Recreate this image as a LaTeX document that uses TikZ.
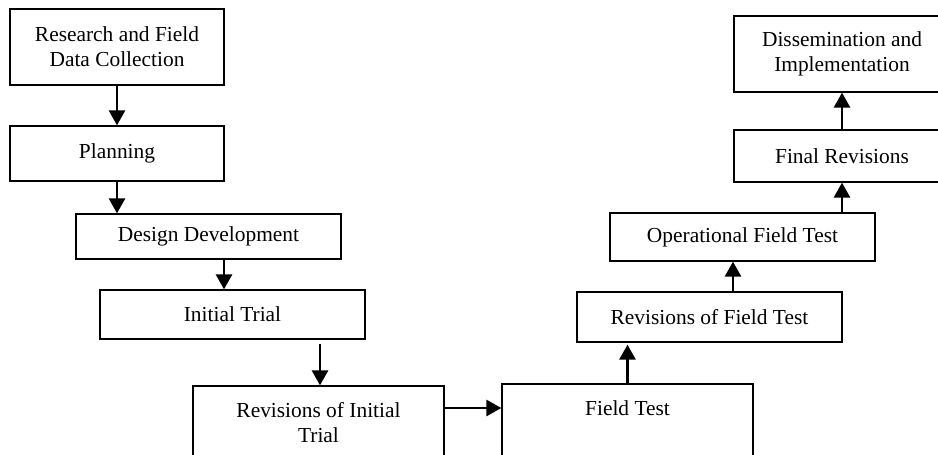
\documentclass[tikz,border=0pt]{standalone}
\usepackage{fontspec}
\setmainfont{Liberation Serif}
\usetikzlibrary{arrows.meta}
\begin{document}
\begin{tikzpicture}[x=0.5pt,y=-0.5pt,
  box/.style={draw,line width=0.65pt,rectangle,inner sep=0pt,align=center,
    font=\fontsize{10.7}{12.5}\selectfont},
  arr/.style={line width=1.4pt,-{Triangle[width=8pt,length=7.5pt]}}]
\useasboundingbox (0,0) rectangle (938,455);
\clip (0,0) rectangle (938,455);
\node[box,minimum width=107pt,minimum height=38pt] (r) at (117,47) {Research and Field\\Data Collection};
\node[box,minimum width=107pt,minimum height=27.5pt] (p) at (117,153.5) {Planning};
\node[box,minimum width=132.5pt,minimum height=22.5pt] (d) at (208.5,236.5) {Design Development};
\node[box,minimum width=132.5pt,minimum height=24.5pt] (it) at (232.5,314.5) {Initial Trial};
\node[box,minimum width=125.5pt,minimum height=37pt] (ri) at (318.5,423) {Revisions of Initial\\Trial};
\node[box,minimum width=125.5pt,minimum height=37pt] (ft) at (627.5,421) {Field Test\\~};
\node[box,minimum width=132.5pt,minimum height=25pt] (rf) at (709.5,317) {Revisions of Field Test};
\node[box,minimum width=132.5pt,minimum height=24pt] (of) at (742.5,237) {Operational Field Test};
\node[box,minimum width=108pt,minimum height=26pt] (fr) at (842,156) {Final Revisions};
\node[box,minimum width=108pt,minimum height=38pt] (di) at (842,54) {Dissemination and\\Implementation};
\draw[arr] (r.south) -- (p.north);
\draw[arr] (p.south) -- (p.south |- d.north);
\draw[arr] ([xshift=7.75pt]d.south) -- ([xshift=7.75pt]d.south |- it.north);
\draw[arr] ([xshift=43.75pt,yshift=-2pt]it.south) -- ([xshift=43.75pt]it.south |- ri.north);
\draw[arr] (ri.east |- 0,408) -- (ft.west |- 0,408);
\draw[arr] (ft.north) -- ([yshift=-1pt]ft.north |- rf.south);
\draw[arr] ([xshift=11.75pt]rf.north) -- ([xshift=11.75pt]rf.north |- of.south);
\draw[arr] ([xshift=49.75pt]of.north) -- (fr.south);
\draw[arr] (fr.north) -- (di.south);
\end{tikzpicture}
\end{document}
